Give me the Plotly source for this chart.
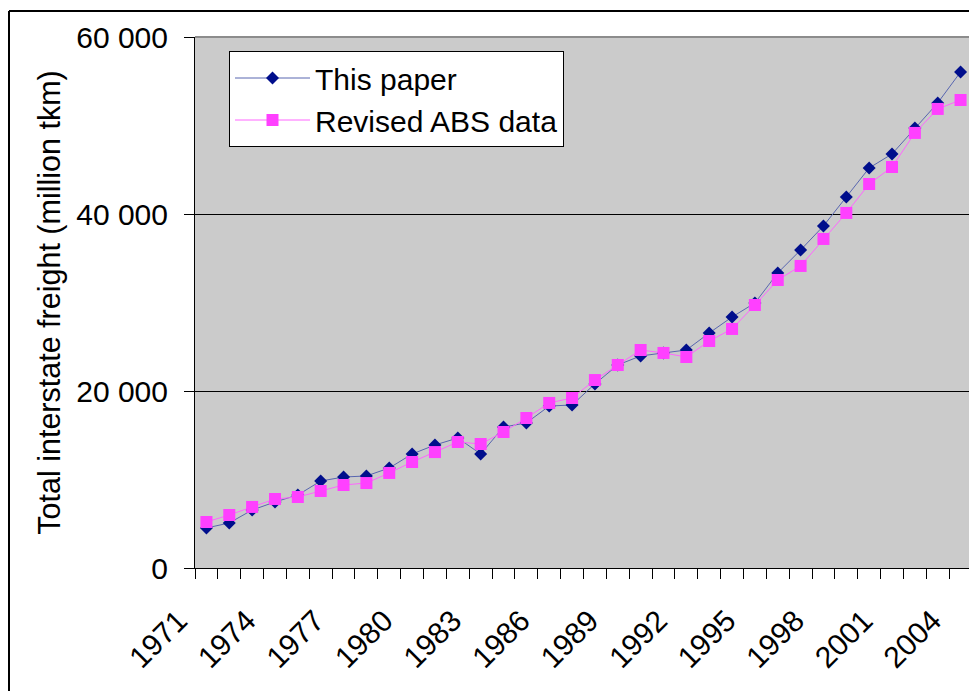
import plotly.graph_objects as go

years = list(range(1971, 2005))
this_paper = [4520, 5090, 6550, 7460, 8250, 9830, 10280, 10400, 11300, 12880,
              13900, 14690, 12880, 15930, 16390, 18300, 18420, 20800, 22940, 23960,
              24300, 24630, 26550, 28360, 29940, 33340, 35930, 38650, 41920, 45200,
              46780, 49720, 52550, 56050]
revised_abs = [5200, 5990, 6900, 7800, 8020, 8700, 9380, 9600, 10740, 11980,
               13100, 14240, 14010, 15370, 16950, 18650, 19210, 21240, 22940, 24630,
               24300, 23840, 25650, 27010, 29720, 32540, 34130, 37180, 40120, 43390,
               45310, 49160, 51870, 52880]
label_years = list(range(1971, 2005, 3))
y_ticks = [0, 20000, 40000, 60000]

FONT = "Liberation Sans, Arial, sans-serif"

fig = go.Figure()
fig.add_trace(go.Scatter(
    x=years, y=this_paper, name="This paper", mode="lines+markers",
    line=dict(color="#5866B0", width=1),
    marker=dict(symbol="diamond", size=10, color="#000E8C",
                line=dict(width=0)),
))
fig.add_trace(go.Scatter(
    x=years, y=revised_abs, name="Revised ABS data", mode="lines+markers",
    line=dict(color="#FF66FF", width=1),
    marker=dict(symbol="square", size=12, color="#FF40FF",
                line=dict(width=0)),
))

# page body has an 8px offset; target coordinates are given in window pixels
OFF = 8
W, H = 977 - OFF, 691 - OFF
L, T = 195 - OFF, 37 - OFF
R = W - (972 - OFF)
B = H - (568 - OFF)
pw = W - L - R
ph = H - T - B


def px_x(x):
    return (x - OFF - L) / pw


def px_y(y):
    return (H - B - (y - OFF)) / ph


fig.update_layout(
    width=W, height=H,
    margin=dict(l=L, r=R, t=T, b=B, autoexpand=False),
    paper_bgcolor="white",
    plot_bgcolor="#CBCBCB",
    separators=". ",
    font=dict(family=FONT, size=30, color="black"),
    showlegend=True,
    legend=dict(
        x=px_x(229), y=px_y(51), xanchor="left", yanchor="top",
        bgcolor="white", bordercolor="black", borderwidth=1,
        font=dict(family=FONT, size=30, color="black"),
        tracegroupgap=0, itemwidth=75,
    ),
    xaxis=dict(
        range=[1970.5, 2004.5], tickmode="array", tickvals=label_years,
        ticktext=[str(y) for y in label_years],
        tickangle=-45, ticks="", showgrid=False, zeroline=False,
        showline=True, linecolor="black", linewidth=1,
        tickfont=dict(family=FONT, size=30, color="black"),
        minor=dict(ticks="outside", tick0=0.5, dtick=1, ticklen=10,
                   tickcolor="black", tickwidth=1, showgrid=False),
        ticklabelstandoff=22, ticklabelshift=-28,
    ),
    yaxis=dict(
        range=[0, 60000], tickmode="array", tickvals=y_ticks,
        tickformat=",d", ticks="outside", ticklen=10, tickcolor="black",
        showgrid=True, gridcolor="black", gridwidth=1, zeroline=False,
        showline=True, linecolor="black", linewidth=1,
        tickfont=dict(family=FONT, size=30, color="black"),
        ticklabelstandoff=10,
        title=dict(text="Total interstate freight (million tkm)",
                   font=dict(family=FONT, size=30.5, color="black"), standoff=6),
    ),
    shapes=[
        # plot-area border (gray on top and right)
        dict(type="line", xref="paper", yref="paper", x0=0, x1=1, y0=1, y1=1,
             line=dict(color="#8C8C8C", width=2)),
        dict(type="line", xref="paper", yref="paper", x0=1, x1=1, y0=0, y1=1,
             line=dict(color="#8C8C8C", width=2)),
        # outer chart frame (top and left visible)
        dict(type="line", xref="paper", yref="paper",
             x0=px_x(9), x1=px_x(1000), y0=px_y(11), y1=px_y(11),
             line=dict(color="black", width=2)),
        dict(type="line", xref="paper", yref="paper",
             x0=px_x(9), x1=px_x(9), y0=px_y(11), y1=px_y(720),
             line=dict(color="black", width=2)),
    ],
)

fig.write_html("out.html")
